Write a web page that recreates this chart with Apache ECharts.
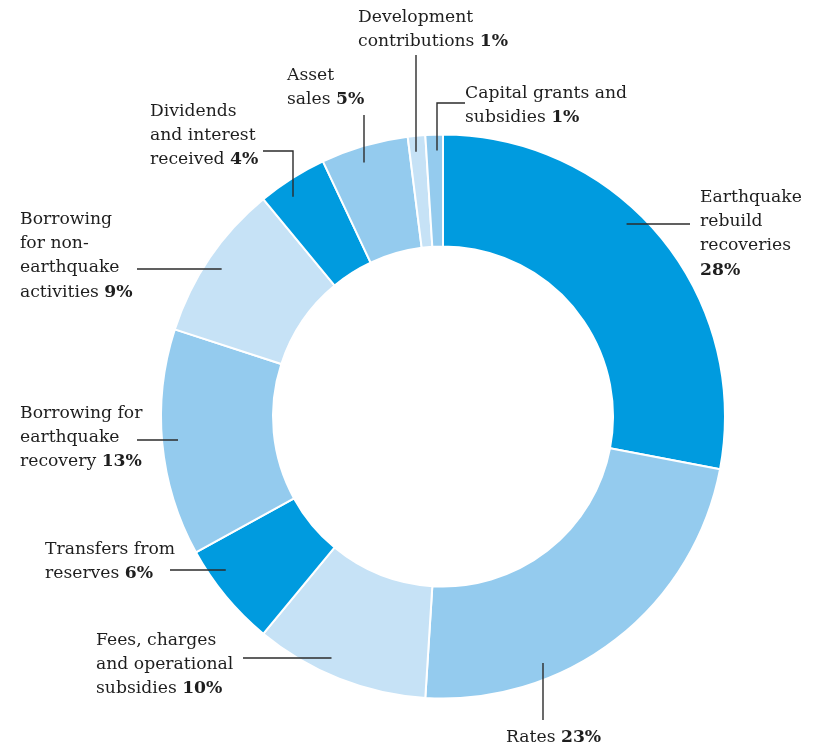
<!DOCTYPE html>
<html>
<head>
<meta charset="utf-8">
<script src="https://cdn.jsdelivr.net/npm/echarts@6/dist/echarts.min.js"></script>
<style>
  html, body { margin: 0; padding: 0; background: #ffffff; }
  #chart { width: 823px; height: 749px; }
</style>
</head>
<body>
<div id="chart"></div>
<script>
// Sources of funding, share of total (%), clockwise from 12 o'clock
const categories = [
  'Earthquake\nrebuild\nrecoveries',
  'Rates',
  'Fees, charges\nand operational\nsubsidies',
  'Transfers from\nreserves',
  'Borrowing for\nearthquake\nrecovery',
  'Borrowing\nfor non-\nearthquake\nactivities',
  'Dividends\nand interest\nreceived',
  'Asset\nsales',
  'Development\ncontributions',
  'Capital grants and\nsubsidies'
];
const shares = [28, 23, 10, 6, 13, 9, 4, 5, 1, 1];
// percentage printed on its own line rather than after the last word
const shareOnNewLine = [true, false, false, false, false, false, false, false, false, false];

// palette: three blues cycling round the ring
const DARK = '#009bdf', MID = '#94cbee', LIGHT = '#c6e2f6';
const sliceColors = [DARK, MID, LIGHT, DARK, MID, LIGHT, DARK, MID, LIGHT, MID];

// ring geometry (px)
const CX = 443, CY = 416.5, R_OUT = 282, R_IN = 170;
const LEADER_DEPTH = 16; // how far leader lines reach into the ring

// label boxes (top-left) and where each leader line leaves the text
const labelSpots = [
  { x: 700, y: 185, from: [690, 224], dir: 'h' },
  { x: 506, y: 725, from: [543, 720], dir: 'v' },
  { x: 96,  y: 628, from: [243, 658], dir: 'h' },
  { x: 45,  y: 537, from: [170, 570], dir: 'h' },
  { x: 20,  y: 401, from: [137, 440], dir: 'h' },
  { x: 20,  y: 207, from: [137, 269], dir: 'h' },
  { x: 150, y: 99,  from: [263, 151], elbow: [293, 151], dir: 'v' },
  { x: 287, y: 63,  from: [364, 115], dir: 'v' },
  { x: 358, y: 5,   from: [416, 55],  dir: 'v' },
  { x: 465, y: 81,  from: [465, 103], elbow: [437, 103], dir: 'v' }
];

const FONT = 'DejaVu Serif';
const FONT_SIZE = 17.2;
const LINE_H = 24.4;
const INK = '#1e1e1e';

// end point of a horizontal / vertical leader, where it meets the circle r
function leaderEnd(p, dir, r) {
  if (dir === 'h') {
    const dy = p[1] - CY;
    const dx = Math.sqrt(Math.max(r * r - dy * dy, 0));
    return [p[0] < CX ? CX - dx : CX + dx, p[1]];
  }
  const dx = p[0] - CX;
  const dy = Math.sqrt(Math.max(r * r - dx * dx, 0));
  return [p[0], p[1] < CY ? CY - dy : CY + dy];
}

const pieData = categories.map((name, i) => ({
  name: name,
  value: shares[i],
  itemStyle: { color: sliceColors[i] }
}));

// leader lines drawn above the ring
const leaders = labelSpots.map(s => {
  const mid = s.elbow || s.from;
  const end = leaderEnd(mid, s.dir, R_OUT - LEADER_DEPTH);
  const pts = s.elbow ? [s.from, s.elbow, end] : [s.from, end];
  return {
    type: 'polyline',
    z: 100,
    silent: true,
    shape: { points: pts },
    style: { stroke: '#2b2b2b', lineWidth: 1.4, fill: null }
  };
});

const chart = echarts.init(document.getElementById('chart'), null, { renderer: 'canvas' });

chart.setOption({
  backgroundColor: '#ffffff',
  animation: false,
  graphic: { elements: leaders },
  series: [{
    type: 'pie',
    center: [CX, CY],
    radius: [R_IN, R_OUT],
    startAngle: 90,
    clockwise: true,
    avoidLabelOverlap: false,
    silent: true,
    data: pieData,
    itemStyle: { borderColor: '#ffffff', borderWidth: 2 },
    emphasis: { disabled: true },
    label: {
      show: true,
      position: 'outside',
      fontFamily: FONT,
      fontSize: FONT_SIZE,
      color: INK,
      formatter: function (p) {
        const i = p.dataIndex;
        const lines = p.name.split('\n').map(s => '{n|' + s + '}');
        const pct = '{b|' + shares[i] + '%}';
        if (shareOnNewLine[i]) lines.push(pct);
        else lines[lines.length - 1] += '{n| }' + pct;
        return lines.join('\n');
      },
      rich: {
        n: { fontFamily: FONT, fontSize: FONT_SIZE, color: INK, lineHeight: LINE_H },
        b: { fontFamily: FONT, fontSize: FONT_SIZE, fontWeight: 'bold', color: INK, lineHeight: LINE_H }
      }
    },
    labelLine: { show: false },
    labelLayout: function (params) {
      const s = labelSpots[params.dataIndex];
      return { x: s.x, y: s.y, align: 'left', verticalAlign: 'top' };
    }
  }]
});
</script>
</body>
</html>
